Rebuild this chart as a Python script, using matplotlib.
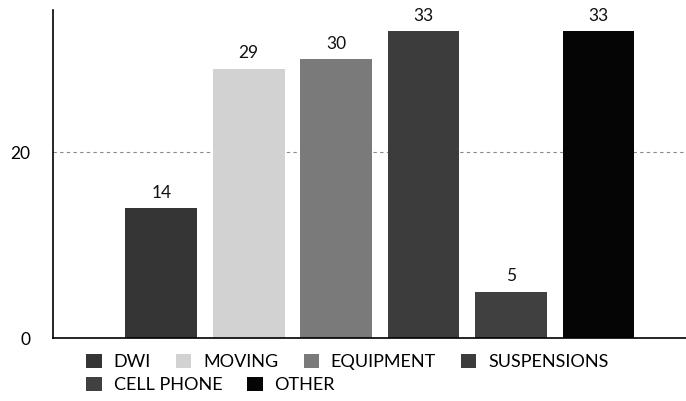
import matplotlib.pyplot as plt
from matplotlib.patches import Patch

# Data
categories = ["DWI", "MOVING", "EQUIPMENT", "SUSPENSIONS", "CELL PHONE", "OTHER"]
counts = [14, 29, 30, 33, 5, 33]
colors = ["#353535", "#d2d2d2", "#7a7a7a", "#3c3c3c", "#404040", "#050505"]
ytick_values = [0, 20]

plt.rcParams['font.family'] = ['Lato', 'DejaVu Sans']

fig = plt.figure(figsize=(6.86, 4.01), dpi=100)
ax = fig.add_axes([0.077, 0.157, 0.923, 0.818])

x = list(range(len(categories)))
bars = ax.bar(x, counts, width=0.82, color=colors, zorder=2)

for xi, v in zip(x, counts):
    ax.text(xi, v + 0.8, str(v), ha="center", va="bottom", fontsize=12.5, color="#111111")

ax.set_xlim(-1.24, 6.0)
ax.set_ylim(0, 35.3)
ax.set_yticks(ytick_values)
ax.set_yticklabels([str(v) for v in ytick_values], fontsize=12.5)
ax.tick_params(axis="y", length=0, pad=16)
ax.set_xticks([])
ax.axhline(20, color="#888888", lw=0.8, ls=(0, (3, 3)), zorder=1)

for s in ["top", "right"]:
    ax.spines[s].set_visible(False)
ax.spines["left"].set_linewidth(1.2)
ax.spines["bottom"].set_linewidth(1.2)

handles = [Patch(facecolor=c, label=l) for c, l in zip(colors, categories)]
kw = dict(frameon=False, fontsize=13, handlelength=0.85, handleheight=0.85,
          handletextpad=0.65, columnspacing=1.4, borderaxespad=0, borderpad=0)
fig.legend(handles=handles[:4], ncol=4, loc="center left",
           bbox_to_anchor=(0.126, 0.097), **kw)
fig.legend(handles=handles[4:], ncol=2, loc="center left",
           bbox_to_anchor=(0.126, 0.040), **kw)

fig.savefig("out.png", dpi=100)
